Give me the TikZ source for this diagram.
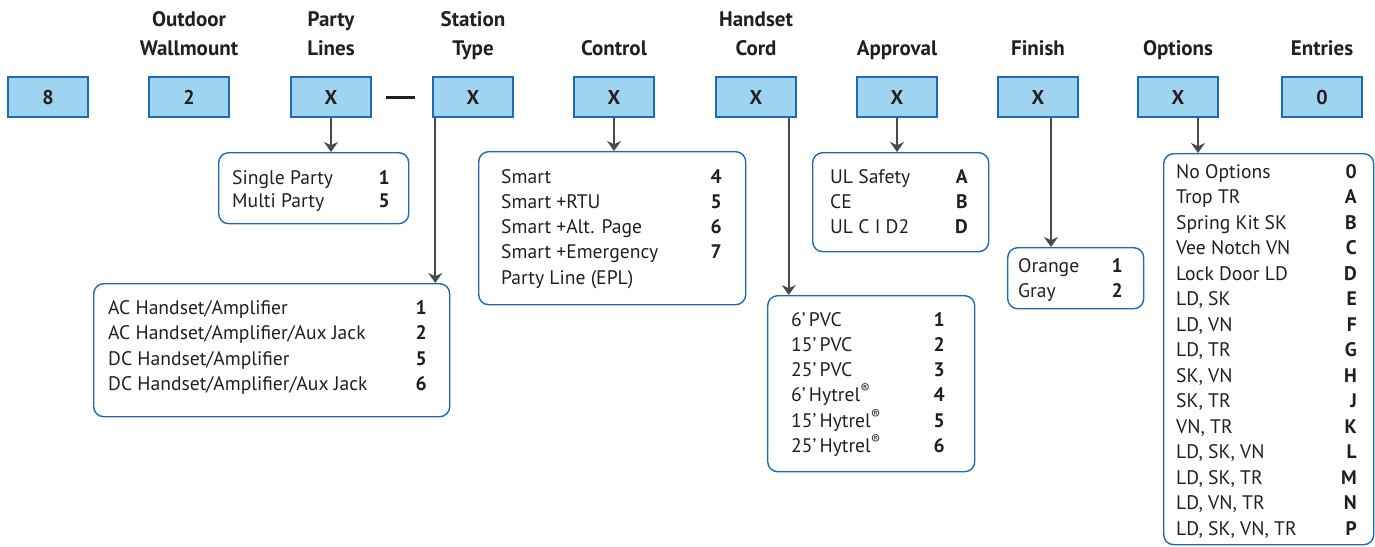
\documentclass[tikz,border=0pt]{standalone}
\usepackage{fontspec}
\setmainfont{PT Sans}
\usetikzlibrary{arrows.meta}
\definecolor{boxfill}{HTML}{9FD4F1}
\definecolor{boxline}{HTML}{1F6BB3}
\definecolor{txt}{HTML}{231F20}
\definecolor{connc}{HTML}{4A4A4A}
\tikzset{
  codebox/.style={draw=boxline, line width=1.5pt, fill=boxfill, minimum width=80pt, minimum height=40pt, inner sep=0pt, font=\fontsize{20}{24}\selectfont\bfseries, text=txt},
  title/.style={anchor=base, inner sep=0pt, font=\fontsize{21}{26}\selectfont\bfseries, text=txt},
  listbox/.style={draw=boxline, line width=1.4pt, rounded corners=10pt, inner sep=0pt, anchor=north west},
  item/.style={anchor=base west, inner sep=0pt, font=\fontsize{19.6}{22}\selectfont, text=txt},
  code/.style={anchor=base east, inner sep=0pt, font=\fontsize{19.6}{22}\selectfont\bfseries, text=txt},
  connector/.style={draw=connc, line width=2pt, -{Stealth[length=10pt,width=14pt]}}
}
\begin{document}
\begin{tikzpicture}[x=1pt,y=-1pt]
\useasboundingbox (0,0) rectangle (1375,546);
% titles
\node[title] (t2a) at (189,27) {Outdoor};
\node[title] (t2b) at (189,55) {Wallmount};
\node[title] (t3a) at (331,27) {Party};
\node[title] (t3b) at (331,55) {Lines};
\node[title] (t4a) at (473,27) {Station};
\node[title] (t4b) at (473,55) {Type};
\node[title] (t5) at (614,55) {Control};
\node[title] (t6a) at (756,27) {Handset};
\node[title] (t6b) at (756,55) {Cord};
\node[title] (t7) at (897,55) {Approval};
\node[title] (t8) at (1038,55) {Finish};
\node[title] (t9) at (1178,55) {Options};
\node[title] (t10) at (1322,55) {Entries};
% code boxes
\node[codebox] (b1) at (48,97) {8};
\node[codebox] (b2) at (189,97) {2};
\node[codebox] (b3) at (331,97) {X};
\node[codebox] (b4) at (473,97) {X};
\node[codebox] (b5) at (614,97) {X};
\node[codebox] (b6) at (756,97) {X};
\node[codebox] (b7) at (897,97) {X};
\node[codebox] (b8) at (1038,97) {X};
\node[codebox] (b9) at (1178,97) {X};
\node[codebox] (b10) at (1322,97) {0};
\draw[txt, line width=3pt] (386,97) -- (415,97);
% Party lines list
\node[listbox, minimum width=190pt, minimum height=71pt] (lp) at (218,152) {};
\node[item] (lp1) at (232,184) {Single Party}; \node[code] (cp1) at (390,184) {1};
\node[item] (lp2) at (232,207) {Multi Party}; \node[code] (cp2) at (390,207) {5};
% Station type list
\node[listbox, minimum width=356pt, minimum height=133pt] (ls) at (93,283) {};
\node[item] at (108,314) {AC Handset/Amplifier}; \node[code] at (427,314) {1};
\node[item] at (108,339.5) {AC Handset/Amplifier/Aux Jack}; \node[code] at (427,339.5) {2};
\node[item] at (108,365) {DC Handset/Amplifier}; \node[code] at (427,365) {5};
\node[item] at (108,390) {DC Handset/Amplifier/Aux Jack}; \node[code] at (427,390) {6};
% Control list
\node[listbox, minimum width=267pt, minimum height=153pt] (lc) at (478,151) {};
\node[item] at (501,183) {Smart}; \node[code] at (722,183) {4};
\node[item] at (501,208) {Smart +RTU}; \node[code] at (722,208) {5};
\node[item] at (501,233) {Smart +Alt. Page}; \node[code] at (722,233) {6};
\node[item] at (501,258) {Smart +Emergency}; \node[code] at (722,258) {7};
\node[item] at (501,284) {Party Line (EPL)};
% Handset cord list
\node[listbox, minimum width=207pt, minimum height=176pt] (lh) at (767,295) {};
\node[item] at (791,326) {6'\,PVC}; \node[code] at (945,326) {1};
\node[item] at (791,351) {15'\,PVC}; \node[code] at (945,351) {2};
\node[item] at (791,376) {25'\,PVC}; \node[code] at (945,376) {3};
\node[item] at (791,401) {6'\,Hytrel\textsuperscript{\textregistered}}; \node[code] at (945,401) {4};
\node[item] at (791,427) {15'\,Hytrel\textsuperscript{\textregistered}}; \node[code] at (945,427) {5};
\node[item] at (791,452) {25'\,Hytrel\textsuperscript{\textregistered}}; \node[code] at (945,452) {6};
% Approval list
\node[listbox, minimum width=176pt, minimum height=99pt] (la) at (812,152) {};
\node[item] at (830,183) {UL Safety}; \node[code] at (968,183) {A};
\node[item] at (830,208) {CE}; \node[code] at (968,208) {B};
\node[item] at (830,233) {UL C I D2}; \node[code] at (968,233) {D};
% Finish list
\node[listbox, minimum width=136pt, minimum height=61pt] (lf) at (1007,247) {};
\node[item] at (1018,272) {Orange}; \node[code] at (1123,272) {1};
\node[item] at (1018,297) {Gray}; \node[code] at (1123,297) {2};
% Options list
\node[listbox, minimum width=210pt, minimum height=391pt] (lo) at (1163,153) {};
\foreach \t/\c [count=\i from 0] in {No Options/0, Trop TR/A, Spring Kit SK/B, Vee Notch VN/C, Lock Door LD/D, {LD, SK}/E, {LD, VN}/F, {LD, TR}/G, {SK, VN}/H, {SK, TR}/J, {VN, TR}/K, {LD, SK, VN}/L, {LD, SK, TR}/M, {LD, VN, TR}/N, {LD, SK, VN, TR}/P}{
  \node[item] at (1176,178+25.5*\i) {\t};
  \node[code] at (1357,178+25.5*\i) {\c};
}
% connectors
\draw[connector] (b3.south) -- (b3.south |- lp.north);
\draw[connector] ([xshift=3pt]b4.south west) -- ([xshift=3pt]b4.south west |- ls.north);
\draw[connector] (b5.south) -- (b5.south |- lc.north);
\draw[connector] ([xshift=-8pt]b6.south east) -- ([xshift=-8pt]b6.south east |- lh.north);
\draw[connector] (b7.south) -- (b7.south |- la.north);
\draw[connector] ([xshift=13pt]b8.south) -- ([xshift=13pt]b8.south |- lf.north);
\draw[connector] ([xshift=20pt]b9.south) -- ([xshift=20pt]b9.south |- lo.north);
\end{tikzpicture}
\end{document}
